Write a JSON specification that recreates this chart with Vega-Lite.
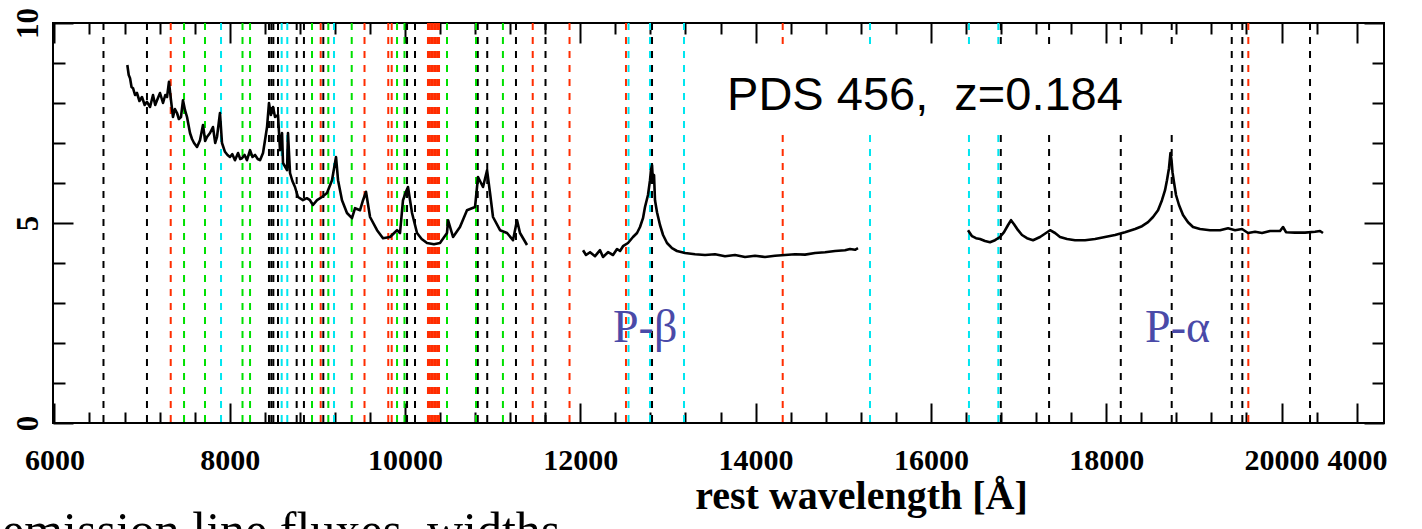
{
  "$schema": "https://vega.github.io/schema/vega-lite/v6.json",
  "width": 1331,
  "height": 400,
  "autosize": {"type": "none"},
  "padding": {"left": 53, "top": 23, "right": 38, "bottom": 106},
  "background": "white",
  "config": {"view": {"stroke": "black", "strokeWidth": 2}, "axis": {"grid": false, "domain": false}},
  "datasets": {
    "lines": [
      {"w": 6560, "c": "k"}, {"w": 7056, "c": "k"}, {"w": 8448, "c": "k"}, {"w": 8475, "c": "k"}, {"w": 8498, "c": "k"}, {"w": 8551, "c": "k"},
      {"w": 8764, "c": "k"}, {"w": 8847, "c": "k"}, {"w": 9068, "c": "k"}, {"w": 10023, "c": "k"}, {"w": 10114, "c": "k"},
      {"w": 10830, "c": "k"}, {"w": 10938, "c": "k"}, {"w": 11266, "c": "k"}, {"w": 11603, "c": "k"}, {"w": 16797, "c": "k"},
      {"w": 17348, "c": "k"}, {"w": 18166, "c": "k"}, {"w": 18747, "c": "k"}, {"w": 19432, "c": "k"}, {"w": 19553, "c": "k"},
      {"w": 20325, "c": "k"},
      {"w": 7901, "c": "c"}, {"w": 8593, "c": "c"}, {"w": 8657, "c": "c"}, {"w": 9190, "c": "c"}, {"w": 12550, "c": "c"},
      {"w": 12795, "c": "c"}, {"w": 13183, "c": "c"}, {"w": 15305, "c": "c"}, {"w": 16434, "c": "c"}, {"w": 16769, "c": "c"},
      {"w": 12818, "c": "k"},
      {"w": 7479, "c": "g"}, {"w": 7718, "c": "g"}, {"w": 8146, "c": "g"}, {"w": 8232, "c": "g"}, {"w": 8939, "c": "g"},
      {"w": 9125, "c": "g"}, {"w": 9392, "c": "g"}, {"w": 9909, "c": "g"}, {"w": 9994, "c": "g"}, {"w": 10479, "c": "g"},
      {"w": 10810, "c": "g"}, {"w": 11117, "c": "g"},
      {"w": 7327, "c": "r"}, {"w": 9038, "c": "r"}, {"w": 9538, "c": "r"}, {"w": 9809, "c": "r"}, {"w": 9848, "c": "r"},
      {"w": 10262, "c": "r"}, {"w": 10280, "c": "r"}, {"w": 10298, "c": "r"}, {"w": 10316, "c": "r"}, {"w": 10334, "c": "r"},
      {"w": 10352, "c": "r"}, {"w": 10370, "c": "r"}, {"w": 10388, "c": "r"}, {"w": 11457, "c": "r"},
      {"w": 11877, "c": "r"}, {"w": 12521, "c": "r"}, {"w": 14309, "c": "r"}, {"w": 19621, "c": "r"}
    ],
    "spec": [
      {"s": 1, "w": 6832, "f": 8.95}, {"s": 1, "w": 6848, "f": 8.7}, {"s": 1, "w": 6863, "f": 8.62}, {"s": 1, "w": 6880, "f": 8.4},
      {"s": 1, "w": 6897, "f": 8.37}, {"s": 1, "w": 6920, "f": 8.2}, {"s": 1, "w": 6942, "f": 8.25}, {"s": 1, "w": 6970, "f": 8.05},
      {"s": 1, "w": 6999, "f": 8.15}, {"s": 1, "w": 7030, "f": 7.95}, {"s": 1, "w": 7056, "f": 8.03}, {"s": 1, "w": 7091, "f": 7.9},
      {"s": 1, "w": 7125, "f": 8.2}, {"s": 1, "w": 7150, "f": 7.95}, {"s": 1, "w": 7171, "f": 8.07}, {"s": 1, "w": 7205, "f": 8.25},
      {"s": 1, "w": 7239, "f": 8.0}, {"s": 1, "w": 7265, "f": 8.2}, {"s": 1, "w": 7285, "f": 8.15}, {"s": 1, "w": 7307, "f": 8.53},
      {"s": 1, "w": 7330, "f": 8.07}, {"s": 1, "w": 7353, "f": 7.65}, {"s": 1, "w": 7375, "f": 7.85}, {"s": 1, "w": 7399, "f": 7.75},
      {"s": 1, "w": 7420, "f": 7.6}, {"s": 1, "w": 7444, "f": 7.65}, {"s": 1, "w": 7467, "f": 8.07}, {"s": 1, "w": 7490, "f": 7.82},
      {"s": 1, "w": 7513, "f": 7.65}, {"s": 1, "w": 7547, "f": 7.25}, {"s": 1, "w": 7570, "f": 7.1}, {"s": 1, "w": 7593, "f": 7.0},
      {"s": 1, "w": 7627, "f": 6.9}, {"s": 1, "w": 7661, "f": 7.07}, {"s": 1, "w": 7695, "f": 7.45}, {"s": 1, "w": 7720, "f": 7.05},
      {"s": 1, "w": 7741, "f": 7.15}, {"s": 1, "w": 7775, "f": 7.25}, {"s": 1, "w": 7809, "f": 7.4}, {"s": 1, "w": 7835, "f": 7.0},
      {"s": 1, "w": 7855, "f": 7.15}, {"s": 1, "w": 7889, "f": 7.75}, {"s": 1, "w": 7912, "f": 7.0}, {"s": 1, "w": 7946, "f": 6.78},
      {"s": 1, "w": 7975, "f": 6.7}, {"s": 1, "w": 8003, "f": 6.65}, {"s": 1, "w": 8030, "f": 6.72}, {"s": 1, "w": 8060, "f": 6.57},
      {"s": 1, "w": 8095, "f": 6.75}, {"s": 1, "w": 8120, "f": 6.6}, {"s": 1, "w": 8140, "f": 6.62}, {"s": 1, "w": 8170, "f": 6.7},
      {"s": 1, "w": 8197, "f": 6.57}, {"s": 1, "w": 8232, "f": 6.82}, {"s": 1, "w": 8260, "f": 6.65}, {"s": 1, "w": 8289, "f": 6.7},
      {"s": 1, "w": 8320, "f": 6.6}, {"s": 1, "w": 8346, "f": 6.57}, {"s": 1, "w": 8380, "f": 6.75}, {"s": 1, "w": 8405, "f": 7.1},
      {"s": 1, "w": 8426, "f": 7.4}, {"s": 1, "w": 8448, "f": 8.0}, {"s": 1, "w": 8470, "f": 7.7}, {"s": 1, "w": 8494, "f": 7.9},
      {"s": 1, "w": 8517, "f": 7.65}, {"s": 1, "w": 8551, "f": 7.7}, {"s": 1, "w": 8574, "f": 6.82}, {"s": 1, "w": 8597, "f": 7.25},
      {"s": 1, "w": 8608, "f": 6.5}, {"s": 1, "w": 8654, "f": 6.32}, {"s": 1, "w": 8665, "f": 7.25}, {"s": 1, "w": 8688, "f": 6.25},
      {"s": 1, "w": 8715, "f": 6.05}, {"s": 1, "w": 8745, "f": 5.9}, {"s": 1, "w": 8779, "f": 5.65}, {"s": 1, "w": 8836, "f": 5.57},
      {"s": 1, "w": 8880, "f": 5.62}, {"s": 1, "w": 8916, "f": 5.57}, {"s": 1, "w": 8950, "f": 5.45}, {"s": 1, "w": 8996, "f": 5.57},
      {"s": 1, "w": 9053, "f": 5.65}, {"s": 1, "w": 9110, "f": 5.75}, {"s": 1, "w": 9167, "f": 6.07}, {"s": 1, "w": 9213, "f": 6.65},
      {"s": 1, "w": 9236, "f": 6.07}, {"s": 1, "w": 9281, "f": 5.57}, {"s": 1, "w": 9338, "f": 5.25}, {"s": 1, "w": 9395, "f": 5.12},
      {"s": 1, "w": 9430, "f": 5.37}, {"s": 1, "w": 9487, "f": 5.32}, {"s": 1, "w": 9521, "f": 5.57}, {"s": 1, "w": 9555, "f": 5.78},
      {"s": 1, "w": 9601, "f": 5.15}, {"s": 1, "w": 9681, "f": 4.82}, {"s": 1, "w": 9749, "f": 4.62}, {"s": 1, "w": 9829, "f": 4.65},
      {"s": 1, "w": 9909, "f": 4.82}, {"s": 1, "w": 9943, "f": 4.75}, {"s": 1, "w": 9977, "f": 5.57}, {"s": 1, "w": 10011, "f": 5.78},
      {"s": 1, "w": 10034, "f": 5.9}, {"s": 1, "w": 10080, "f": 5.25}, {"s": 1, "w": 10137, "f": 4.75}, {"s": 1, "w": 10190, "f": 4.6},
      {"s": 1, "w": 10251, "f": 4.5}, {"s": 1, "w": 10330, "f": 4.47}, {"s": 1, "w": 10399, "f": 4.5}, {"s": 1, "w": 10479, "f": 4.75},
      {"s": 1, "w": 10491, "f": 5.07}, {"s": 1, "w": 10548, "f": 4.65}, {"s": 1, "w": 10627, "f": 4.9}, {"s": 1, "w": 10707, "f": 5.32},
      {"s": 1, "w": 10799, "f": 5.4}, {"s": 1, "w": 10833, "f": 6.15}, {"s": 1, "w": 10890, "f": 5.9}, {"s": 1, "w": 10936, "f": 6.32},
      {"s": 1, "w": 10970, "f": 5.75}, {"s": 1, "w": 11004, "f": 5.15}, {"s": 1, "w": 11084, "f": 4.82}, {"s": 1, "w": 11164, "f": 4.75},
      {"s": 1, "w": 11232, "f": 4.57}, {"s": 1, "w": 11278, "f": 5.07}, {"s": 1, "w": 11312, "f": 4.75}, {"s": 1, "w": 11392, "f": 4.45},
      {"s": 2, "w": 12031, "f": 4.32}, {"s": 2, "w": 12065, "f": 4.2}, {"s": 2, "w": 12111, "f": 4.27}, {"s": 2, "w": 12168, "f": 4.17},
      {"s": 2, "w": 12225, "f": 4.32}, {"s": 2, "w": 12259, "f": 4.15}, {"s": 2, "w": 12316, "f": 4.27}, {"s": 2, "w": 12373, "f": 4.2},
      {"s": 2, "w": 12419, "f": 4.35}, {"s": 2, "w": 12453, "f": 4.3}, {"s": 2, "w": 12487, "f": 4.42}, {"s": 2, "w": 12544, "f": 4.5},
      {"s": 2, "w": 12601, "f": 4.65}, {"s": 2, "w": 12647, "f": 4.75}, {"s": 2, "w": 12681, "f": 4.9}, {"s": 2, "w": 12715, "f": 5.12},
      {"s": 2, "w": 12738, "f": 5.4}, {"s": 2, "w": 12772, "f": 5.7}, {"s": 2, "w": 12795, "f": 6.07}, {"s": 2, "w": 12806, "f": 6.32},
      {"s": 2, "w": 12818, "f": 6.45}, {"s": 2, "w": 12829, "f": 6.02}, {"s": 2, "w": 12841, "f": 6.2}, {"s": 2, "w": 12852, "f": 5.57},
      {"s": 2, "w": 12875, "f": 5.27}, {"s": 2, "w": 12909, "f": 4.95}, {"s": 2, "w": 12944, "f": 4.7}, {"s": 2, "w": 12989, "f": 4.5},
      {"s": 2, "w": 13046, "f": 4.37}, {"s": 2, "w": 13103, "f": 4.3}, {"s": 2, "w": 13195, "f": 4.25}, {"s": 2, "w": 13309, "f": 4.22},
      {"s": 2, "w": 13423, "f": 4.2}, {"s": 2, "w": 13537, "f": 4.22}, {"s": 2, "w": 13651, "f": 4.17}, {"s": 2, "w": 13765, "f": 4.2},
      {"s": 2, "w": 13879, "f": 4.15}, {"s": 2, "w": 13993, "f": 4.18}, {"s": 2, "w": 14107, "f": 4.15}, {"s": 2, "w": 14221, "f": 4.18},
      {"s": 2, "w": 14335, "f": 4.2}, {"s": 2, "w": 14450, "f": 4.22}, {"s": 2, "w": 14564, "f": 4.21}, {"s": 2, "w": 14678, "f": 4.25},
      {"s": 2, "w": 14792, "f": 4.27}, {"s": 2, "w": 14906, "f": 4.3}, {"s": 2, "w": 15020, "f": 4.32}, {"s": 2, "w": 15077, "f": 4.35},
      {"s": 2, "w": 15134, "f": 4.33}, {"s": 2, "w": 15168, "f": 4.37},
      {"s": 3, "w": 16423, "f": 4.82}, {"s": 3, "w": 16469, "f": 4.67}, {"s": 3, "w": 16514, "f": 4.62}, {"s": 3, "w": 16560, "f": 4.6},
      {"s": 3, "w": 16617, "f": 4.55}, {"s": 3, "w": 16674, "f": 4.52}, {"s": 3, "w": 16731, "f": 4.57}, {"s": 3, "w": 16788, "f": 4.65},
      {"s": 3, "w": 16834, "f": 4.77}, {"s": 3, "w": 16880, "f": 4.95}, {"s": 3, "w": 16914, "f": 5.07}, {"s": 3, "w": 16948, "f": 4.97},
      {"s": 3, "w": 16994, "f": 4.82}, {"s": 3, "w": 17039, "f": 4.7}, {"s": 3, "w": 17096, "f": 4.62}, {"s": 3, "w": 17165, "f": 4.57},
      {"s": 3, "w": 17245, "f": 4.65}, {"s": 3, "w": 17313, "f": 4.75}, {"s": 3, "w": 17359, "f": 4.82}, {"s": 3, "w": 17416, "f": 4.75},
      {"s": 3, "w": 17473, "f": 4.65}, {"s": 3, "w": 17553, "f": 4.6}, {"s": 3, "w": 17644, "f": 4.57}, {"s": 3, "w": 17758, "f": 4.57},
      {"s": 3, "w": 17872, "f": 4.6}, {"s": 3, "w": 17986, "f": 4.65}, {"s": 3, "w": 18100, "f": 4.7}, {"s": 3, "w": 18214, "f": 4.77},
      {"s": 3, "w": 18329, "f": 4.85}, {"s": 3, "w": 18408, "f": 4.92}, {"s": 3, "w": 18477, "f": 5.02}, {"s": 3, "w": 18534, "f": 5.15},
      {"s": 3, "w": 18591, "f": 5.32}, {"s": 3, "w": 18636, "f": 5.57}, {"s": 3, "w": 18671, "f": 5.82}, {"s": 3, "w": 18693, "f": 6.07},
      {"s": 3, "w": 18716, "f": 6.37}, {"s": 3, "w": 18733, "f": 6.75}, {"s": 3, "w": 18745, "f": 6.57}, {"s": 3, "w": 18756, "f": 6.27},
      {"s": 3, "w": 18773, "f": 6.02}, {"s": 3, "w": 18796, "f": 5.7}, {"s": 3, "w": 18830, "f": 5.45}, {"s": 3, "w": 18876, "f": 5.2},
      {"s": 3, "w": 18933, "f": 5.02}, {"s": 3, "w": 18990, "f": 4.9}, {"s": 3, "w": 19070, "f": 4.85}, {"s": 3, "w": 19184, "f": 4.82},
      {"s": 3, "w": 19298, "f": 4.82}, {"s": 3, "w": 19390, "f": 4.87}, {"s": 3, "w": 19470, "f": 4.82}, {"s": 3, "w": 19549, "f": 4.85},
      {"s": 3, "w": 19618, "f": 4.75}, {"s": 3, "w": 19698, "f": 4.78}, {"s": 3, "w": 19777, "f": 4.75}, {"s": 3, "w": 19869, "f": 4.8},
      {"s": 3, "w": 19983, "f": 4.8}, {"s": 3, "w": 20017, "f": 4.9}, {"s": 3, "w": 20051, "f": 4.77}, {"s": 3, "w": 20154, "f": 4.76},
      {"s": 3, "w": 20268, "f": 4.76}, {"s": 3, "w": 20382, "f": 4.78}, {"s": 3, "w": 20439, "f": 4.8}, {"s": 3, "w": 20473, "f": 4.75}
    ]
  },
  "layer": [
    {
      "data": {"name": "lines"},
      "mark": {"type": "rule", "strokeDash": [7, 7], "strokeWidth": 2},
      "encoding": {
        "x": {"field": "w", "type": "quantitative", "scale": {"domain": [5984, 21169], "nice": false, "zero": false},
          "axis": {"orient": "bottom", "values": [6000, 8000, 10000, 12000, 14000, 16000, 18000, 20000, 20861],
            "labelExpr": "datum.value > 20500 ? '4000' : format(datum.value, 'd')",
            "ticks": false, "domain": false, "grid": false,
            "labelFont": "Liberation Serif", "labelFontWeight": "bold", "labelFontSize": 30, "labelColor": "black",
            "labelPadding": 22, "labelFlush": false, "labelOverlap": false, "labelBound": false,
            "title": "rest wavelength [Å]", "titleFont": "Liberation Serif", "titleFontWeight": "bold", "titleFontSize": 40,
            "titleColor": "black", "titleX": 808, "titleY": 85, "titleAlign": "center", "titleBaseline": "alphabetic"}},
        "color": {"field": "c", "type": "nominal", "scale": {"domain": ["k", "r", "g", "c"], "range": ["#000000", "#ff2d00", "#00e000", "#00e6f0"]}, "legend": null}
      }
    },
    {
      "data": {"values": [{"x1": 13600, "x2": 18900, "y1": 7.25, "y2": 9.35}]},
      "mark": {"type": "rect", "fill": "white", "stroke": null},
      "encoding": {
        "x": {"field": "x1", "type": "quantitative", "scale": {"domain": [5984, 21169], "nice": false, "zero": false},
          "axis": {"orient": "bottom", "values": [6000, 8000, 10000, 12000, 14000, 16000, 18000, 20000, 20861],
            "tickSize": -20, "tickWidth": 2, "tickColor": "black", "labels": false, "domain": false, "grid": false, "title": null}},
        "x2": {"field": "x2"},
        "y": {"field": "y1", "type": "quantitative", "scale": {"domain": [0, 10], "nice": false, "zero": false},
          "axis": {"orient": "left", "values": [0, 5, 10], "ticks": false, "domain": false, "grid": false,
            "labelAngle": -90, "labelAlign": "center", "labelBaseline": "bottom",
            "labelFont": "Liberation Serif", "labelFontWeight": "bold", "labelFontSize": 31, "labelColor": "black",
            "labelPadding": 9, "labelFlush": false, "labelOverlap": false, "labelBound": false, "title": null}},
        "y2": {"field": "y2"}
      }
    },
    {
      "data": {"name": "spec"},
      "mark": {"type": "line", "color": "black", "strokeWidth": 2.6, "strokeJoin": "round"},
      "encoding": {
        "x": {"field": "w", "type": "quantitative", "scale": {"domain": [5984, 21169], "nice": false, "zero": false},
          "axis": {"orient": "bottom", "values": [6400, 6800, 7200, 7600, 8400, 8800, 9200, 9600, 10400, 10800, 11200, 11600, 12400, 12800, 13200, 13600, 14400, 14800, 15200, 15600, 16400, 16800, 17200, 17600, 18400, 18800, 19200, 19600, 20400],
            "tickSize": -11, "tickWidth": 2, "tickColor": "black", "labels": false, "domain": false, "grid": false, "title": null}},
        "y": {"field": "f", "type": "quantitative", "scale": {"domain": [0, 10], "nice": false, "zero": false},
          "axis": {"orient": "left", "values": [0, 5, 10], "tickSize": -20, "tickWidth": 2, "tickColor": "black", "labels": false, "domain": false, "grid": false, "title": null}},
        "detail": {"field": "s", "type": "nominal"}
      }
    },
    {
      "data": {"values": [{"w": 13674, "f": 7.83, "t": "PDS 456,\u00a0 z=0.184"}]},
      "mark": {"type": "text", "font": "Liberation Sans", "fontSize": 47, "color": "black", "align": "left", "baseline": "alphabetic"},
      "encoding": {
        "x": {"field": "w", "type": "quantitative", "scale": {"domain": [5984, 21169], "nice": false, "zero": false},
          "axis": {"orient": "top", "values": [6000, 8000, 10000, 12000, 14000, 16000, 18000, 20000, 20861],
            "tickSize": -20, "tickWidth": 2, "tickColor": "black", "labels": false, "domain": false, "grid": false, "title": null}},
        "y": {"field": "f", "type": "quantitative", "scale": {"domain": [0, 10], "nice": false, "zero": false},
          "axis": {"orient": "left", "values": [1, 2, 3, 4, 6, 7, 8, 9], "tickSize": -12, "tickWidth": 2, "tickColor": "black", "labels": false, "domain": false, "grid": false, "title": null}},
        "text": {"field": "t"}
      }
    },
    {
      "data": {"values": [{"w": 12373, "f": 2.03, "t": "P-β"}, {"w": 18443, "f": 2.03, "t": "P-α"}]},
      "mark": {"type": "text", "font": "Liberation Serif", "fontSize": 46, "color": "#4a4aa8", "align": "left", "baseline": "alphabetic"},
      "encoding": {
        "x": {"field": "w", "type": "quantitative", "scale": {"domain": [5984, 21169], "nice": false, "zero": false},
          "axis": {"orient": "top", "values": [6400, 6800, 7200, 7600, 8400, 8800, 9200, 9600, 10400, 10800, 11200, 11600, 12400, 12800, 13200, 13600, 14400, 14800, 15200, 15600, 16400, 16800, 17200, 17600, 18400, 18800, 19200, 19600, 20400],
            "tickSize": -11, "tickWidth": 2, "tickColor": "black", "labels": false, "domain": false, "grid": false, "title": null}},
        "y": {"field": "f", "type": "quantitative", "scale": {"domain": [0, 10], "nice": false, "zero": false},
          "axis": {"orient": "right", "values": [0, 5, 10], "tickSize": -20, "tickWidth": 2, "tickColor": "black", "labels": false, "domain": false, "grid": false, "title": null}},
        "text": {"field": "t"}
      }
    },
    {
      "data": {"values": [{"w": 5402, "f": -3.1, "t": "emission line fluxes, widths"}]},
      "mark": {"type": "text", "font": "Liberation Serif", "fontSize": 50, "color": "black", "align": "left", "baseline": "alphabetic"},
      "encoding": {
        "x": {"field": "w", "type": "quantitative", "scale": {"domain": [5984, 21169], "nice": false, "zero": false}, "axis": null},
        "y": {"field": "f", "type": "quantitative", "scale": {"domain": [0, 10], "nice": false, "zero": false},
          "axis": {"orient": "right", "values": [1, 2, 3, 4, 6, 7, 8, 9], "tickSize": -12, "tickWidth": 2, "tickColor": "black", "labels": false, "domain": false, "grid": false, "title": null}},
        "text": {"field": "t"}
      }
    }
  ],
  "resolve": {"axis": {"x": "independent", "y": "independent"}}
}
